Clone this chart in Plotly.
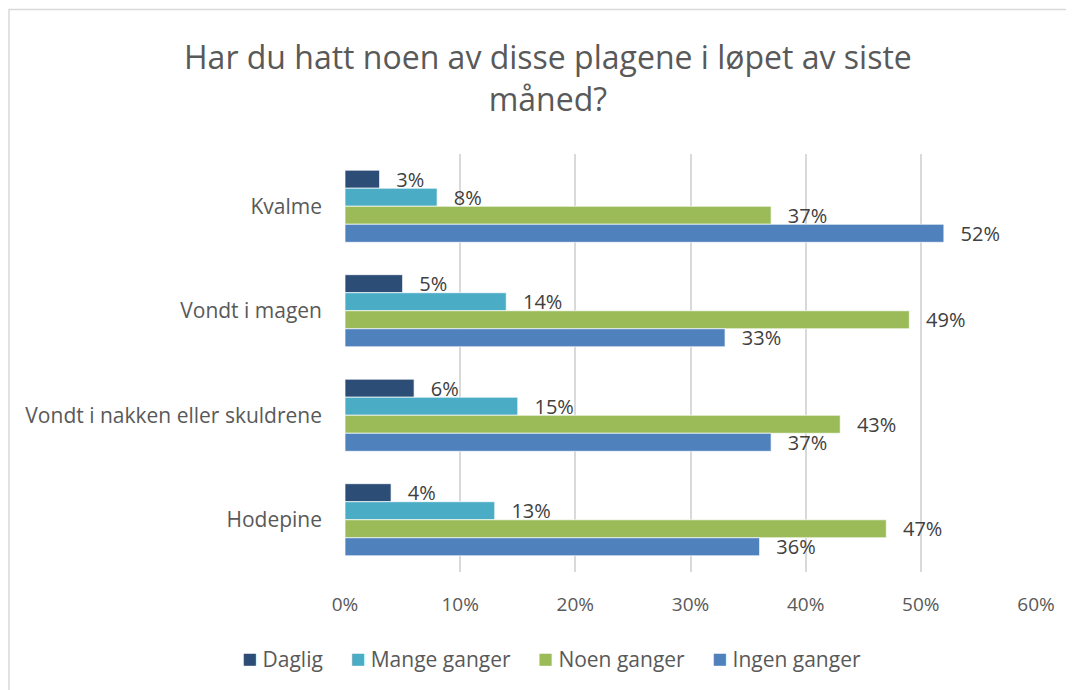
import plotly.graph_objects as go

categories = ["Kvalme", "Vondt i magen", "Vondt i nakken eller skuldrene", "Hodepine"]
series_names = ["Daglig", "Mange ganger", "Noen ganger", "Ingen ganger"]
daglig = [3, 5, 6, 4]
mange_ganger = [8, 14, 15, 13]
noen_ganger = [37, 49, 43, 47]
ingen_ganger = [52, 33, 37, 36]
tick_values = [0, 10, 20, 30, 40, 50, 60]
tick_labels = ["0%", "10%", "20%", "30%", "40%", "50%", "60%"]
title_text = "Har du hatt noen av disse plagene i løpet av siste<br>måned?"

colors = ["#2C4D75", "#4BACC6", "#9BBB59", "#4F81BD"]
series_values = [daglig, mange_ganger, noen_ganger, ingen_ganger]

FONT = "Open Sans, Noto Sans, sans-serif"
TXT = "#595959"
PAD = "\u00a0\u00a0\u2009"

fig = go.Figure()
for name, vals, col in zip(series_names, series_values, colors):
    fig.add_trace(go.Bar(
        y=categories, x=vals, name=name, orientation="h",
        marker=dict(color=col, line=dict(color="white", width=0.7)),
        text=[f"{PAD}{v}%" for v in vals], textposition="outside",
        constraintext="none",
        textfont=dict(size=20, color="#404040", family=FONT),
        cliponaxis=False,
    ))

# The page body has an 8px margin, so figure coords = viewport coords - 8
OFF = 8
W, H = 1066, 682
L, T = 345 - OFF, 154 - OFF
R = W - (1036 - OFF)
B = H - (572 - OFF)
pw, ph = W - L - R, H - T - B

def px_x(x):
    return (x - L) / pw

def px_y(y):
    return 1 - (y - T) / ph

# custom legend as one text line
SEP = "\u00a0" * 5
legend_text = SEP.join(
    f"<span style='color:{c};font-size:25px'>\u25A0</span>\u00a0{n}"
    for n, c in zip(series_names, colors)
)

fig.update_layout(
    width=W, height=H,
    margin=dict(l=L, r=R, t=T, b=B),
    paper_bgcolor="white", plot_bgcolor="white",
    barmode="group", bargap=0.31, bargroupgap=0,
    font=dict(family=FONT, color=TXT, size=18),
    showlegend=False,
    xaxis=dict(range=[0, 60], tickvals=tick_values, ticktext=tick_labels,
               showgrid=True, gridcolor="#D9D9D9", gridwidth=1.5,
               zeroline=False, showline=False, ticks="",
               tickfont=dict(size=19, color=TXT), ticklabelstandoff=19),
    yaxis=dict(autorange="reversed", showgrid=False, zeroline=False, showline=False,
               ticks="", tickfont=dict(size=21, color=TXT), ticklabelstandoff=22),
    annotations=[
        dict(text=title_text, xref="paper", yref="paper",
             x=px_x(548 - OFF), y=px_y(78 - OFF), xanchor="center", yanchor="middle",
             showarrow=False, font=dict(size=32, color=TXT, family=FONT)),
        dict(text=legend_text, xref="paper", yref="paper",
             x=px_x(551 - OFF), y=px_y(657 - OFF), xanchor="center", yanchor="middle",
             showarrow=False, font=dict(size=21, color=TXT, family=FONT)),
    ],
    shapes=[dict(type="rect", xref="paper", yref="paper",
                 x0=px_x(9 - OFF), x1=px_x(1100), y0=px_y(9.5 - OFF), y1=px_y(720),
                 line=dict(color="#D9D9D9", width=1.5), fillcolor="rgba(0,0,0,0)",
                 layer="below")],
)

fig.write_html("out.html")
